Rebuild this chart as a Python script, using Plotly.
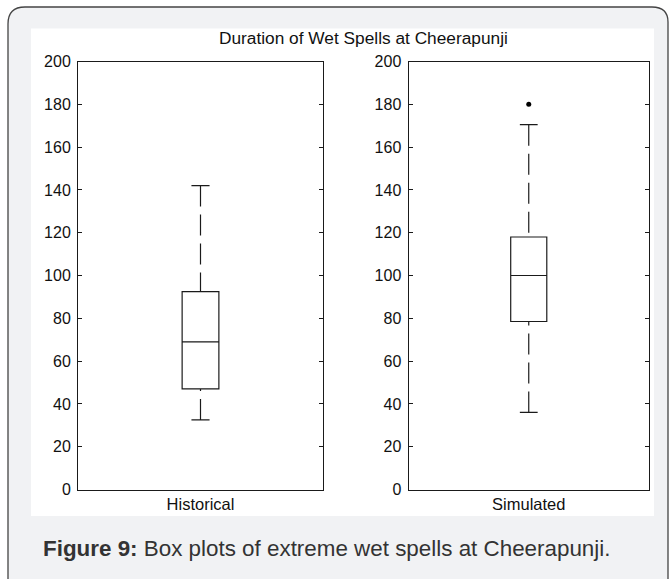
import plotly.graph_objects as go

W, H = 669, 579

# ---- data ----
groups = ["Historical", "Simulated"]
q1 = [47, 78.5]
median = [69, 100]
q3 = [92.5, 118]
lower_whisker = [32.5, 36]
upper_whisker = [142, 170.5]
outliers = [[], [180]]
y_ticks = list(range(0, 201, 20))
title_text = "Duration of Wet Spells at Cheerapunji"
caption = "<b>Figure 9:</b> Box plots of extreme wet spells at Cheerapunji."

def px(x):
    return x / W

def py(y):
    return 1 - y / H

fig = go.Figure()
ink = "#1a1a1a"
font_family = "Liberation Sans, Arial, sans-serif"

for i, name in enumerate(groups):
    xa = "x" if i == 0 else "x2"
    ya = "y" if i == 0 else "y2"
    fig.add_trace(go.Box(
        x=[1], q1=[q1[i]], median=[median[i]], q3=[q3[i]],
        lowerfence=[q1[i]], upperfence=[q3[i]],
        width=0.15, fillcolor="white",
        line=dict(color=ink, width=1.2),
        boxpoints=False, showlegend=False, hoverinfo="skip",
        xaxis=xa, yaxis=ya,
    ))
    # dashed whiskers, drawn from the extreme toward the box
    for a, b in [(upper_whisker[i], q3[i]), (lower_whisker[i], q1[i])]:
        fig.add_trace(go.Scatter(
            x=[1, 1], y=[a, b], mode="lines",
            line=dict(color=ink, width=1.2, dash="21px,8px"),
            showlegend=False, hoverinfo="skip", xaxis=xa, yaxis=ya,
        ))
        fig.add_trace(go.Scatter(
            x=[1 - 0.037, 1 + 0.037], y=[a, a], mode="lines",
            line=dict(color=ink, width=1.2),
            showlegend=False, hoverinfo="skip", xaxis=xa, yaxis=ya,
        ))
    if outliers[i]:
        fig.add_trace(go.Scatter(
            x=[1] * len(outliers[i]), y=outliers[i], mode="markers",
            marker=dict(color="black", size=5, symbol="circle"),
            showlegend=False, hoverinfo="skip", xaxis=xa, yaxis=ya,
        ))

ydom = [py(489.5), py(61.5)]
common_y = dict(
    range=[0, 200], tickvals=y_ticks, ticks="inside", ticklen=4,
    tickcolor=ink, showline=True, linecolor=ink, linewidth=1,
    mirror="ticks", showgrid=False, zeroline=False, automargin=False,
    tickfont=dict(family=font_family, size=16, color="#111"),
    domain=ydom, ticklabelstandoff=3,
)
common_x = dict(
    range=[0.5, 1.5], tickvals=[1], ticks="", showline=True,
    linecolor=ink, linewidth=1, mirror=True, showgrid=False, automargin=False,
    zeroline=False, tickfont=dict(family=font_family, size=16.5, color="#111"),
)

fig.update_layout(
    width=W, height=H,
    margin=dict(l=0, r=0, t=0, b=0, autoexpand=False),
    paper_bgcolor="white", plot_bgcolor="white",
    xaxis=dict(domain=[px(78), px(323)], ticktext=[groups[0]], anchor="y", **common_x),
    xaxis2=dict(domain=[px(408.5), px(649)], ticktext=[groups[1]], anchor="y2", **common_x),
    yaxis=dict(anchor="x", **common_y),
    yaxis2=dict(anchor="x2", **common_y),
    shapes=[
        # outer rounded card
        dict(type="path", xref="paper", yref="paper",
             path=(f"M {px(8)},{py(600)} L {px(8)},{py(24)} "
                   f"Q {px(8)},{py(7)} {px(25)},{py(7)} "
                   f"L {px(652)},{py(7)} Q {px(668)},{py(7)} {px(668)},{py(22)} "
                   f"L {px(668)},{py(600)} Z"),
             fillcolor="#f1f2f4", line=dict(color="#444", width=1.3), layer="below"),
        # white figure area
        dict(type="rect", xref="paper", yref="paper",
             x0=px(31), x1=px(654), y0=py(516), y1=py(28.5),
             fillcolor="white", line=dict(width=0), layer="below"),
    ],
    annotations=[
        dict(text=title_text, x=px(363), y=py(38), xref="paper", yref="paper",
             showarrow=False, xanchor="center", yanchor="middle",
             font=dict(family=font_family, size=17.3, color="#111")),
        dict(text=caption, x=px(41), y=py(548), xref="paper", yref="paper",
             showarrow=False, xanchor="left", yanchor="middle",
             font=dict(family=font_family, size=22.4, color="#333")),
    ],
)

post = (
    "document.documentElement.style.margin='0';"
    "document.body.style.margin='0';document.body.style.padding='0';"
    "document.body.style.overflow='hidden';"
    "var d=document.getElementById('{plot_id}');"
    "d.style.position='absolute';d.style.left='0px';d.style.top='0px';"
)

fig.write_html("out.html", post_script=post, config={"displayModeBar": False})
